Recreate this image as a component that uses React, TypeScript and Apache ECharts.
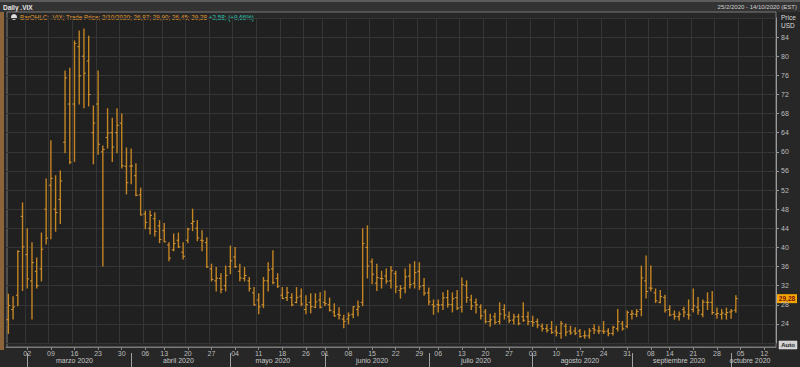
import React, { useEffect, useRef } from "react";
import * as echarts from "echarts";

// ---------- DATA ----------
const START = "2020-02-25";
const END = "2020-10-14";
const HOLIDAYS = ["2020-04-10", "2020-05-25", "2020-07-03", "2020-09-07"];
const MONTHS_ES = ["enero", "febrero", "marzo", "abril", "mayo", "junio", "julio", "agosto", "septiembre", "octubre", "noviembre", "diciembre"];

// OHLC values for trading days 25/2/2020 .. 2/10/2020
const OPEN = [
  24.9, 27.0, 30.0, 46.5,
  38.5, 33.0, 35.0, 35.5, 48.0, 53.0, 48.0, 50.0, 62.0, 70.0, 70.0, 82.0, 80.0, 79.0, 64.0, 70.0, 60.0, 63.0, 64.0, 64.0, 66.0, 57.0,
  57.0, 55.0, 51.0, 47.0, 44.0, 46.0, 44.5, 43.5, 40.5, 39.5, 41.5, 39.0, 41.5, 45.0, 44.0, 41.5, 41.0, 35.5, 33.0, 33.5, 32.0,
  36.0, 38.0, 35.0, 33.5, 33.0, 30.5, 29.0, 28.0, 33.0, 35.5, 33.5, 30.0, 29.5, 29.5, 28.5, 29.8, 27.0, 28.5, 27.5, 29.0,
  28.5, 28.0, 26.5, 26.0, 25.0, 25.0, 26.0, 27.0, 28.5, 40.0, 37.0, 32.5, 33.5, 34.0, 33.0, 34.5, 31.0, 31.5, 34.0, 32.5, 35.0, 32.0,
  30.5, 28.0, 28.0, 28.0, 29.5, 28.0, 29.5, 27.5, 32.0, 29.0, 28.5, 27.5, 26.5, 24.5, 25.5, 24.5, 27.0, 25.5, 24.8, 25.5, 25.5, 25.5,
  24.5, 24.5, 23.5, 23.0, 23.0, 22.5, 22.0, 23.5, 22.5, 22.5, 22.5, 21.5, 21.5, 23.0, 22.5, 22.5, 22.5, 22.0, 23.0, 24.0, 23.5,
  26.0, 26.0, 27.0, 33.0, 31.5, 30.5, 28.5, 29.5, 27.0, 26.0, 25.5, 27.0, 26.0, 27.0, 27.5, 26.0, 28.5, 28.5, 26.0, 26.0, 26.0,
  26.5, 26.87,
];
const HIGH = [
  30.2, 29.7, 39.3, 49.3,
  43.9, 41.0, 37.8, 43.0, 54.3, 62.3, 55.0, 56.0, 76.9, 77.5, 83.2, 85.3, 85.7, 84.2, 69.6, 76.9, 61.2, 69.0, 67.0, 69.0, 67.9, 60.8,
  60.6, 57.5, 52.4, 47.6, 47.6, 47.2, 45.6, 45.0, 41.0, 42.8, 43.0, 41.0, 44.0, 48.0, 45.6, 43.5, 42.0, 36.5, 35.8, 34.5, 36.1,
  40.3, 40.0, 36.5, 35.8, 33.7, 31.6, 30.3, 33.7, 36.8, 39.3, 34.5, 31.6, 31.6, 30.3, 31.6, 31.3, 29.9, 30.3, 30.3, 30.5,
  30.9, 29.4, 28.2, 27.4, 25.8, 26.3, 27.6, 28.8, 43.9, 44.5, 37.6, 36.5, 35.0, 35.5, 36.0, 35.0, 32.0, 35.5, 36.5, 37.0, 36.8, 33.5,
  31.5, 29.0, 29.0, 30.5, 31.0, 30.5, 31.0, 33.6, 33.0, 30.0, 29.2, 28.0, 27.0, 26.0, 26.2, 28.4, 28.0, 26.5, 26.0, 26.0, 28.4, 26.5,
  25.6, 25.0, 24.0, 23.8, 24.5, 23.5, 24.5, 24.0, 23.5, 23.2, 22.8, 22.5, 23.0, 23.8, 23.5, 24.5, 23.0, 23.5, 27.0, 24.5, 26.7,
  26.8, 27.0, 36.1, 38.2, 36.1, 31.3, 31.0, 30.0, 27.8, 26.7, 26.5, 27.5, 29.0, 31.3, 29.5, 29.0, 30.5, 30.8, 27.3, 27.0, 27.3,
  27.0, 29.9,
];
const LOW = [
  22.0, 25.0, 27.8, 31.0,
  31.5, 25.0, 31.5, 33.0, 40.7, 41.8, 43.4, 45.0, 59.8, 57.5, 58.0, 70.0, 69.2, 69.6, 57.5, 59.5, 36.1, 60.8, 58.0, 59.8, 56.6, 51.2,
  53.3, 50.8, 46.8, 43.9, 42.8, 42.4, 41.0, 41.2, 37.2, 39.3, 40.0, 37.6, 41.0, 43.5, 41.4, 39.3, 35.8, 33.0, 30.9, 30.5, 30.9,
  34.5, 35.8, 33.0, 33.0, 30.9, 27.9, 26.1, 27.4, 30.9, 32.4, 31.6, 29.3, 28.9, 27.8, 28.4, 27.8, 26.1, 26.3, 27.4, 27.3,
  27.8, 26.7, 25.6, 25.0, 23.2, 24.0, 25.3, 25.7, 27.8, 33.6, 32.4, 31.0, 31.5, 32.5, 31.5, 30.5, 29.4, 30.5, 31.5, 31.5, 31.2, 30.0,
  28.0, 26.0, 26.5, 27.0, 27.5, 26.5, 27.0, 26.5, 28.5, 27.0, 26.3, 25.0, 24.2, 23.5, 24.0, 24.0, 25.0, 24.3, 24.0, 23.8, 24.5, 23.8,
  23.5, 23.2, 22.5, 22.3, 22.0, 21.5, 21.0, 21.5, 21.8, 21.8, 21.2, 21.0, 21.0, 22.0, 22.0, 22.0, 21.5, 21.7, 22.5, 22.7, 23.2,
  25.0, 25.5, 25.7, 29.4, 30.9, 28.5, 28.4, 26.5, 25.7, 25.0, 24.8, 25.5, 25.0, 26.5, 26.0, 25.5, 27.0, 26.0, 25.2, 25.0, 25.0,
  25.2, 26.45,
];
const CLOSE = [
  27.85, 27.56, 39.16, 40.11,
  33.42, 36.82, 31.99, 39.62, 41.94, 54.46, 47.3, 53.9, 75.47, 57.83, 82.69, 75.91, 76.45, 72.0, 66.04, 61.59, 60.5, 63.95, 61.0, 65.54, 57.08, 53.54,
  57.06, 50.91, 46.8, 45.24, 46.7, 43.35, 41.67, 41.17, 37.76, 40.84, 40.11, 38.15, 43.83, 45.41, 41.98, 41.38, 35.93, 33.29, 33.57, 31.23, 34.15,
  37.19, 35.97, 33.61, 34.12, 31.44, 27.98, 27.57, 33.04, 35.28, 32.61, 31.89, 29.3, 30.53, 27.99, 29.53, 28.16, 28.01, 27.62, 28.59, 27.51,
  28.23, 26.84, 25.66, 25.81, 24.52, 25.81, 27.57, 27.57, 40.79, 36.09, 34.4, 33.67, 33.47, 32.94, 35.12, 31.77, 31.37, 33.84, 32.22, 34.73, 31.78, 30.43,
  28.62, 27.68, 27.94, 29.43, 28.08, 29.26, 27.29, 32.19, 29.52, 27.76, 28.0, 25.68, 24.46, 24.84, 24.32, 26.08, 25.84, 24.74, 25.44, 24.1, 24.76, 24.46,
  24.28, 23.76, 22.99, 22.65, 22.21, 22.13, 24.03, 22.28, 22.13, 22.05, 21.35, 21.51, 22.54, 22.72, 22.54, 22.37, 22.03, 23.27, 24.47, 22.96, 26.41,
  26.12, 26.57, 33.6, 30.75, 31.46, 28.81, 29.71, 26.87, 25.85, 25.59, 26.04, 26.46, 25.83, 27.78, 26.86, 28.58, 28.51, 26.38, 26.19, 26.27, 26.37,
  26.7, 29.28,
];

const Y_MIN = 20;
const Y_MAX = 88;
const Y_STEP = 4;
const LAST_PRICE = 29.28;
const LAST_PRICE_LABEL = "29,28";
const LEGEND_MAIN = "BarOHLC; .VIX; Trade Price; 2/10/2020; 26,87; 29,90; 26,45; 29,28";
const LEGEND_CHANGE = " +2,58; (+9,66%)";
const TITLE = "Daily .VIX";
const RANGE_TEXT = "25/2/2020 - 14/10/2020 (EST)";

// ---------- helpers ----------
function tradingDays(start: string, end: string): string[] {
  const out: string[] = [];
  const d = new Date(start + "T00:00:00Z");
  const e = new Date(end + "T00:00:00Z");
  while (d.getTime() <= e.getTime()) {
    const dow = d.getUTCDay();
    const s = d.toISOString().slice(0, 10);
    if (dow !== 0 && dow !== 6 && HOLIDAYS.indexOf(s) < 0) out.push(s);
    d.setUTCDate(d.getUTCDate() + 1);
  }
  return out;
}
const DATES = tradingDays(START, END);

const dow = (s: string) => new Date(s + "T00:00:00Z").getUTCDay();
const month = (s: string) => parseInt(s.slice(5, 7), 10) - 1;
const isWeekStart = (i: number) => i > 0 && dow(DATES[i]) <= dow(DATES[i - 1]);
const isMonthStart = (i: number) => i > 0 && month(DATES[i]) !== month(DATES[i - 1]);

// middle index of each month (except the partial February at the start)
const MONTH_MID: Record<number, string> = {};
(() => {
  let first = 0;
  for (let i = 1; i <= DATES.length; i++) {
    if (i === DATES.length || month(DATES[i]) !== month(DATES[i - 1])) {
      if (first > 0) {
        const mid = Math.floor((first + i - 1) / 2);
        MONTH_MID[mid] = MONTHS_ES[month(DATES[first])] + " " + DATES[first].slice(0, 4);
      }
      first = i;
    }
  }
})();

const FONT = "'Liberation Sans', Arial, sans-serif";
const BAR_COLOR = "#c38422";
const TICK_COLOR = "#d69a3a";

export default function App() {
  const ref = useRef<HTMLDivElement>(null);

  useEffect(() => {
    if (!ref.current) return;
    const chart = echarts.init(ref.current, undefined, { renderer: "svg" });

    const ohlc = CLOSE.map((c, i) => [i, OPEN[i], HIGH[i], LOW[i], c]);

    const renderItem = (params: any, api: any) => {
      const x = api.value(0);
      const pO = api.coord([x, api.value(1)]);
      const pH = api.coord([x, api.value(2)]);
      const pL = api.coord([x, api.value(3)]);
      const pC = api.coord([x, api.value(4)]);
      const bw = api.size([1, 0])[0];
      const t = Math.max(1.5, bw * 0.4);
      return {
        type: "group",
        children: [
          { type: "line", shape: { x1: pH[0], y1: pH[1] - 0.5, x2: pL[0], y2: pL[1] + 0.5 }, style: { stroke: BAR_COLOR, lineWidth: 1.4 } },
          { type: "line", shape: { x1: pO[0] - t, y1: pO[1], x2: pO[0], y2: pO[1] }, style: { stroke: TICK_COLOR, lineWidth: 1 } },
          { type: "line", shape: { x1: pC[0], y1: pC[1], x2: pC[0] + t, y2: pC[1] }, style: { stroke: TICK_COLOR, lineWidth: 1 } },
        ],
      };
    };

    const buildGraphic = (tagY: number) => [
      { type: "rect", silent: true, shape: { x: 0, y: 0, width: 800, height: 12 }, style: { fill: "#333333" } },
      { type: "rect", silent: true, shape: { x: 0, y: 0, width: 800, height: 2 }, style: { fill: "#5c5c5c" } },
      { type: "text", silent: true, x: 3, y: 7, style: { text: TITLE, fill: "#e6e6e6", font: `bold 6.5px ${FONT}`, verticalAlign: "middle" } },
      { type: "text", silent: true, x: 797, y: 7, style: { text: RANGE_TEXT, fill: "#d0d0d0", font: `6px ${FONT}`, align: "right", verticalAlign: "middle" } },
      { type: "rect", silent: true, shape: { x: 0, y: 12, width: 4, height: 338 }, style: { fill: "#8c6439" } },
      { type: "rect", silent: true, shape: { x: 7, y: 12, width: 769, height: 335 }, style: { fill: "none", stroke: "#7a7a7a", lineWidth: 1 } },
      { type: "circle", silent: true, shape: { cx: 14, cy: 17, r: 3 }, style: { fill: "#dcdcdc" } },
      {
        type: "text", silent: true, x: 20, y: 17,
        style: {
          text: `{a|${LEGEND_MAIN}}{b|${LEGEND_CHANGE}}`,
          verticalAlign: "middle",
          rich: {
            a: { fill: "#e09a2c", font: `6.3px ${FONT}` },
            b: { fill: "#2ec4b0", font: `6.3px ${FONT}` },
          },
        },
      },
      { type: "text", silent: true, x: 781, y: 17, style: { text: "Price", fill: "#dcdcdc", font: `6.5px ${FONT}`, verticalAlign: "middle" } },
      { type: "text", silent: true, x: 781, y: 25, style: { text: "USD", fill: "#dcdcdc", font: `6.5px ${FONT}`, verticalAlign: "middle" } },
      { type: "rect", silent: true, shape: { x: 777, y: tagY - 4.5, width: 20, height: 9 }, style: { fill: "#f2a600" } },
      { type: "text", silent: true, x: 787, y: tagY, style: { text: LAST_PRICE_LABEL, fill: "#7a1212", font: `bold 6.5px ${FONT}`, align: "center", verticalAlign: "middle" } },
      { type: "rect", silent: true, shape: { x: 779, y: 341, width: 18, height: 8 }, style: { fill: "#cfcfcf", stroke: "#eeeeee", lineWidth: 0.5 } },
      { type: "text", silent: true, x: 788, y: 345, style: { text: "Auto", fill: "#222222", font: `bold 6px ${FONT}`, align: "center", verticalAlign: "middle" } },
    ];

    chart.setOption({
      animation: false,
      backgroundColor: "#272727",
      grid: { left: 6, right: 24, top: 18, bottom: 24, show: true, backgroundColor: "#202020", borderWidth: 0 },
      xAxis: [
        {
          type: "category",
          data: DATES,
          boundaryGap: true,
          offset: 4,
          axisLine: { show: true, lineStyle: { color: "#7a7a7a" } },
          axisTick: { show: true, interval: (i: number) => isWeekStart(i), alignWithLabel: true, length: 3, lineStyle: { color: "#8a8a8a" } },
          axisLabel: {
            interval: (i: number) => isWeekStart(i),
            formatter: (v: string) => v.slice(8, 10),
            color: "#bdbdbd",
            fontSize: 7,
            fontFamily: FONT,
            margin: 3,
          },
          splitLine: { show: true, interval: (i: number) => isWeekStart(i), lineStyle: { color: "#353535", width: 1 } },
        },
        {
          type: "category",
          data: DATES,
          boundaryGap: true,
          position: "bottom",
          offset: 10,
          axisLine: { show: false },
          axisTick: { show: true, interval: (i: number) => isMonthStart(i), alignWithLabel: true, length: 14, lineStyle: { color: "#a0a0a0" } },
          axisLabel: {
            interval: (i: number) => MONTH_MID[i] !== undefined,
            formatter: (_v: string, i: number) => MONTH_MID[i] || "",
            color: "#c8c8c8",
            fontSize: 7,
            fontFamily: FONT,
            margin: 4,
          },
          splitLine: { show: false },
        },
      ],
      yAxis: {
        type: "value",
        position: "right",
        min: Y_MIN,
        max: Y_MAX,
        interval: Y_STEP,
        axisLine: { show: true, lineStyle: { color: "#9a9a9a" } },
        axisTick: { show: true, length: 3, lineStyle: { color: "#9a9a9a" } },
        axisLabel: { color: "#bdbdbd", fontSize: 7, fontFamily: FONT, margin: 5, showMinLabel: false, showMaxLabel: false },
        splitLine: { show: true, lineStyle: { color: "#353535", width: 1 } },
      },
      series: [
        {
          type: "custom",
          renderItem,
          data: ohlc,
          encode: { x: 0, y: [1, 2, 3, 4] },
          clip: true,
          xAxisIndex: 0,
          yAxisIndex: 0,
        },
      ],
      graphic: buildGraphic(300),
    });

    const tagY = chart.convertToPixel({ yAxisIndex: 0 }, LAST_PRICE) as number;
    chart.setOption({ graphic: buildGraphic(tagY) });

    return () => chart.dispose();
  }, []);

  return (
    <div style={{ position: "fixed", left: 0, top: 0, width: 800, height: 367, background: "#272727" }}>
      <div ref={ref} style={{ width: 800, height: 367 }} />
    </div>
  );
}
